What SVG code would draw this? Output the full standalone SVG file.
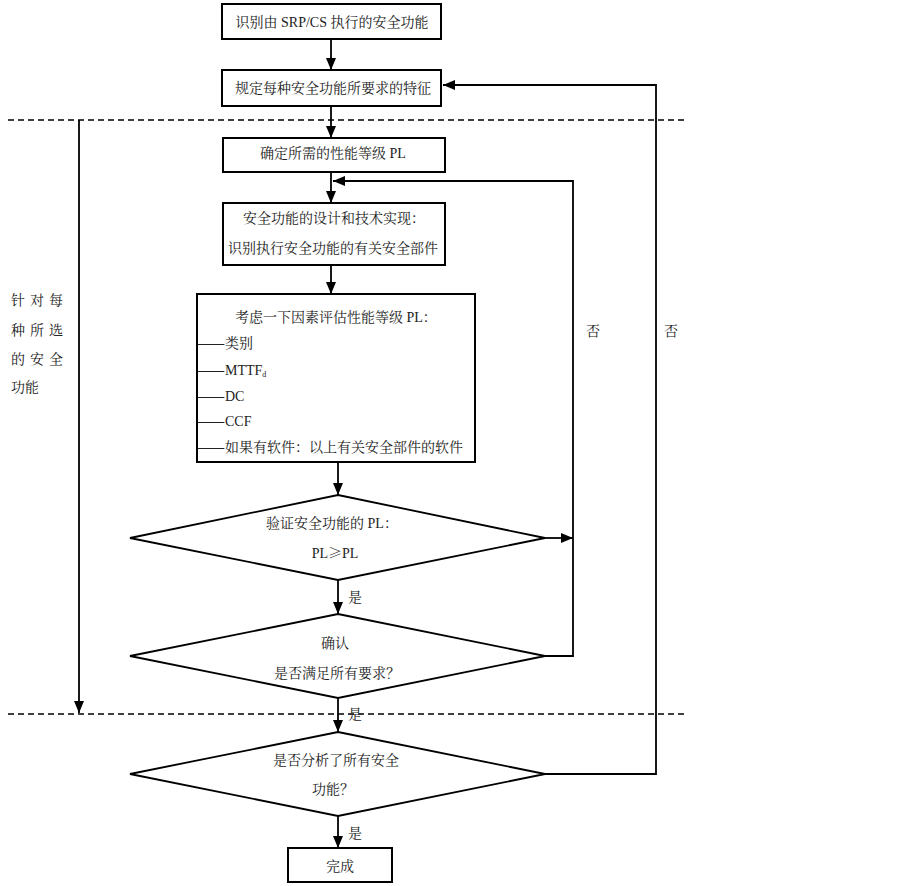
<svg xmlns="http://www.w3.org/2000/svg" width="903" height="886" viewBox="0 0 903 886">
<defs>
<marker id="ah" markerWidth="12" markerHeight="12" viewBox="0 0 12 12" refX="12" refY="6" orient="auto" markerUnits="userSpaceOnUse">
<path d="M0,1 L12,6 L0,11 Z" fill="#000"/>
</marker>
<style>
.box{fill:#fff;stroke:#000;stroke-width:2}
.dia{fill:#fff;stroke:#000;stroke-width:1.8}
.ln{fill:none;stroke:#000;stroke-width:1.8}
.arr{fill:none;stroke:#000;stroke-width:1.8;marker-end:url(#ah)}
.dash{fill:none;stroke:#000;stroke-width:1.6;stroke-dasharray:6,4}
text{font-family:"Liberation Serif","Noto Serif CJK SC","Noto Sans CJK SC",serif;font-size:14px;fill:#222}
.cj{font-family:"Noto Serif CJK SC","Noto Sans CJK SC",sans-serif}
.em{font-family:"Noto Serif CJK SC","Noto Sans CJK SC",sans-serif;font-weight:bold}
.c{text-anchor:middle}
</style>
</defs>
<rect width="903" height="886" fill="#fff"/>
<g id="dividers">
<line class="dash" x1="8" y1="120" x2="685" y2="120"/>
<line class="dash" x1="8" y1="714" x2="685" y2="714"/>
</g>
<g id="connectors">
<line class="arr" x1="331" y1="40" x2="331" y2="70"/>
<line class="arr" x1="331" y1="106" x2="331" y2="138"/>
<line class="arr" x1="331" y1="172" x2="331" y2="203"/>
<line class="arr" x1="331" y1="265" x2="331" y2="294"/>
<line class="arr" x1="338" y1="462" x2="338" y2="495"/>
<line class="arr" x1="338" y1="580" x2="338" y2="614"/>
<line class="arr" x1="338" y1="698" x2="338" y2="732"/>
<line class="arr" x1="338" y1="816" x2="338" y2="848"/>
<line class="arr" x1="545" y1="538" x2="573" y2="538"/>
<polyline class="arr" points="545,656 573,656 573,181 333,181"/>
<polyline class="arr" points="545,774 656,774 656,85 443,85"/>
<line class="arr" x1="79" y1="120" x2="79" y2="713"/>
<text x="348" y="602">是</text>
<text x="348" y="719">是</text>
<text x="348" y="838">是</text>
<text x="586" y="336">否</text>
<text x="664" y="336">否</text>
</g>
<g id="n1">
<rect class="box" x="222" y="4" width="219" height="35"/>
<text class="c" x="332" y="27">识别由 SRP/CS 执行的安全功能</text>
</g>
<g id="n2">
<rect class="box" x="222" y="70" width="219" height="36"/>
<text class="c" x="333" y="93">规定每种安全功能所要求的特征</text>
</g>
<g id="n3">
<rect class="box" x="223" y="138" width="222" height="34"/>
<text class="c" x="333" y="158">确定所需的性能等级 PL</text>
</g>
<g id="n4">
<rect class="box" x="223" y="203" width="222" height="62"/>
<text class="c" x="334" y="223">安全功能的设计和技术实现<tspan class="cj">：</tspan></text>
<text class="c" x="333" y="253">识别执行安全功能的有关安全部件</text>
</g>
<g id="n5">
<rect class="box" x="197" y="294" width="278" height="168"/>
<text x="235" y="322">考虑一下因素评估性能等级 PL<tspan class="cj">：</tspan></text>
<text x="197" y="348"><tspan class="em" textLength="28" lengthAdjust="spacingAndGlyphs">——</tspan><tspan x="225">类别</tspan></text>
<text x="197" y="375"><tspan class="em" textLength="28" lengthAdjust="spacingAndGlyphs">——</tspan><tspan x="225">MTTF</tspan><tspan font-size="8" dy="2">d</tspan></text>
<text x="197" y="401"><tspan class="em" textLength="28" lengthAdjust="spacingAndGlyphs">——</tspan><tspan x="225">DC</tspan></text>
<text x="197" y="426"><tspan class="em" textLength="28" lengthAdjust="spacingAndGlyphs">——</tspan><tspan x="225">CCF</tspan></text>
<text x="197" y="452"><tspan class="em" textLength="28" lengthAdjust="spacingAndGlyphs">——</tspan><tspan x="225">如果有软件</tspan><tspan class="cj">：</tspan>以上有关安全部件的软件</text>
</g>
<g id="d1">
<polygon class="dia" points="338,495 545,538 338,580 130,538"/>
<text class="c" x="332" y="528">验证安全功能的 PL<tspan class="cj">：</tspan></text>
<text class="c" x="335" y="558">PL<tspan class="cj">≥</tspan>PL</text>
</g>
<g id="d2">
<polygon class="dia" points="338,614 545,656 338,698 130,656"/>
<text class="c" x="335" y="648">确认</text>
<text class="c" x="337" y="678">是否满足所有要求<tspan class="cj">？</tspan></text>
</g>
<g id="d3">
<polygon class="dia" points="338,732 545,774 338,816 130,774"/>
<text class="c" x="336" y="765">是否分析了所有安全</text>
<text class="c" x="333" y="794">功能<tspan class="cj">？</tspan></text>
</g>
<g id="n6">
<rect class="box" x="288" y="848" width="104" height="34"/>
<text class="c" x="340" y="871">完成</text>
</g>
<g id="side">
<text x="11" y="305" letter-spacing="5">针对每</text>
<text x="11" y="335" letter-spacing="5">种所选</text>
<text x="11" y="364" letter-spacing="5">的安全</text>
<text x="11" y="392">功能</text>
</g>
</svg>
